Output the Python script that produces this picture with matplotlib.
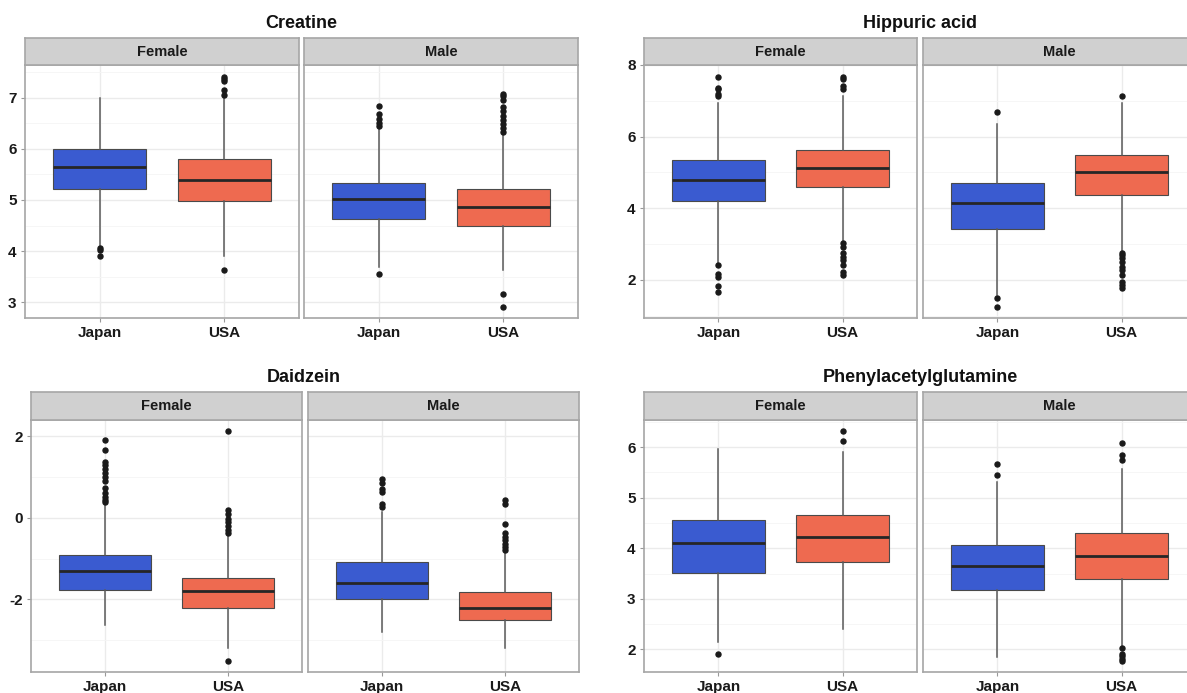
import numpy as np
import matplotlib.pyplot as plt

plt.rcParams['font.family'] = ['Liberation Sans', 'DejaVu Sans']
plt.rcParams['axes.unicode_minus'] = False

metabolites = ['Creatine', 'Hippuric acid', 'Daidzein', 'Phenylacetylglutamine']
sexes = ['Female', 'Male']
countries = ['Japan', 'USA']

# each row: Female-Japan, Female-USA, Male-Japan, Male-USA
medians = [[5.65, 5.39, 5.01, 4.86],
           [4.79, 5.13, 4.16, 5.00],
           [-1.31, -1.80, -1.59, -2.20],
           [4.10, 4.23, 3.65, 3.84]]
q1s = [[5.22, 4.97, 4.63, 4.50],
       [4.20, 4.59, 3.43, 4.38],
       [-1.76, -2.21, -2.00, -2.51],
       [3.51, 3.72, 3.18, 3.40]]
q3s = [[5.99, 5.80, 5.34, 5.22],
       [5.34, 5.62, 4.70, 5.48],
       [-0.91, -1.47, -1.09, -1.81],
       [4.55, 4.66, 4.07, 4.30]]
whisk_lo = [[4.09, 3.91, 3.69, 3.63],
            [2.47, 3.07, 1.57, 2.79],
            [-2.63, -3.18, -2.79, -3.18],
            [2.14, 2.41, 1.85, 2.07]]
whisk_hi = [[7.00, 7.02, 6.40, 6.30],
            [6.94, 7.13, 6.34, 6.94],
            [0.35, -0.42, 0.15, -0.83],
            [5.96, 5.91, 5.31, 5.57]]
outliers = [
    [[4.06, 4.03, 3.90],
     [7.04, 7.15, 7.33, 7.37, 7.41, 3.63],
     [6.44, 6.51, 6.59, 6.67, 6.84, 3.56],
     [6.33, 6.40, 6.48, 6.56, 6.64, 6.73, 6.82, 6.95, 7.02, 7.07, 3.16, 2.92]],
    [[7.13, 7.20, 7.32, 7.37, 7.66, 2.41, 2.18, 2.08, 1.82, 1.66],
     [7.34, 7.41, 7.62, 7.67, 3.02, 2.93, 2.74, 2.64, 2.55, 2.43, 2.22, 2.13],
     [6.68, 1.50, 1.26],
     [7.13, 2.76, 2.69, 2.60, 2.50, 2.36, 2.27, 2.13, 1.94, 1.85, 1.79]],
    [[0.39, 0.45, 0.51, 0.60, 0.73, 0.91, 1.00, 1.09, 1.21, 1.29, 1.37, 1.67, 1.92],
     [-0.37, -0.30, -0.20, -0.11, -0.02, 0.10, 0.20, 2.12, -3.50],
     [0.27, 0.33, 0.64, 0.72, 0.86, 0.96],
     [-0.78, -0.71, -0.63, -0.55, -0.47, -0.37, -0.16, 0.33, 0.45]],
    [[1.91],
     [6.13, 6.31],
     [5.44, 5.67],
     [5.75, 5.84, 6.09, 2.03, 1.91, 1.86, 1.82, 1.78]],
]
y_ticks = [[3, 4, 5, 6, 7], [2, 4, 6, 8], [-2, 0, 2], [2, 3, 4, 5, 6]]

box_colors = ['#3A5BD0', '#EE6A50']

W, H = 1187, 693
# left, facet width, gap, strip top, panel top, panel bottom, title x, title y
layout = [(25, 274, 5, 38, 65, 318, 301, 23),
          (644, 273, 6, 38, 65, 318, 920, 23),
          (31, 271, 6, 392, 420, 672, 304, 377),
          (644, 273, 6, 392, 420, 672, 920, 377)]


def frac(x0, y0, x1, y1):
    return [x0 / W, 1 - y1 / H, (x1 - x0) / W, (y1 - y0) / H]


fig = plt.figure(figsize=(W / 100, H / 100), dpi=100)

for m, name in enumerate(metabolites):
    left, fw, gap, st, pt, pb, tx, ty = layout[m]
    allv = whisk_lo[m] + whisk_hi[m] + [v for o in outliers[m] for v in o]
    lo, hi = min(allv), max(allv)
    pad = 0.05 * (hi - lo)
    ylim = (lo - pad, hi + pad)
    ticks = y_ticks[m]
    step = ticks[1] - ticks[0]
    minor = np.arange(ticks[0] - step / 2, hi + pad, step)

    for s, sex in enumerate(sexes):
        x0 = left + s * (fw + gap)
        x1 = x0 + fw
        ax = fig.add_axes(frac(x0, pt, x1, pb))
        stats = []
        for c in range(2):
            k = 2 * s + c
            stats.append(dict(med=medians[m][k], q1=q1s[m][k], q3=q3s[m][k],
                              whislo=whisk_lo[m][k], whishi=whisk_hi[m][k],
                              fliers=outliers[m][k]))
        bp = ax.bxp(stats, positions=[1, 2], widths=0.75, patch_artist=True, showcaps=False,
                    boxprops=dict(edgecolor='#4a4a4a', linewidth=0.8),
                    medianprops=dict(color='#262626', linewidth=2),
                    whiskerprops=dict(color='#5a5a5a', linewidth=1.1),
                    flierprops=dict(marker='o', markersize=3.6, markerfacecolor='#1a1a1a',
                                    markeredgecolor='#1a1a1a'))
        for patch, col in zip(bp['boxes'], box_colors):
            patch.set_facecolor(col)

        ax.set_xlim(0.4, 2.6)
        ax.set_ylim(*ylim)
        ax.set_xticks([1, 2], countries)
        ax.set_yticks(ticks)
        ax.set_yticks(minor[(minor > ylim[0]) & (minor < ylim[1])], minor=True)
        ax.grid(which='major', color='#ebebeb', linewidth=1)
        ax.grid(which='minor', axis='y', color='#f5f5f5', linewidth=0.6)
        ax.set_axisbelow(True)
        ax.tick_params(which='major', length=3, width=0.8, color='#999999', pad=3,
                       labelsize=11, labelcolor='#1a1a1a')
        ax.tick_params(which='minor', length=0)
        for lab in ax.get_xticklabels() + ax.get_yticklabels():
            lab.set_fontweight('bold')
        if s == 1:
            ax.tick_params(axis='y', left=False, labelleft=False)
        for sp in ax.spines.values():
            sp.set_color('#a6a6a6')
            sp.set_linewidth(1.2)

        sax = fig.add_axes(frac(x0, st, x1, pt))
        sax.set_facecolor('#d0d0d0')
        sax.set_xticks([])
        sax.set_yticks([])
        for sp in sax.spines.values():
            sp.set_color('#a6a6a6')
            sp.set_linewidth(1.2)
        sax.text(0.5, 0.5, sex, ha='center', va='center', fontsize=10.5,
                 fontweight='bold', color='#1a1a1a', transform=sax.transAxes)

    fig.text(tx / W, 1 - ty / H, name, ha='center', va='center', fontsize=13,
             fontweight='bold', color='#111111')

fig.savefig('out.png', dpi=100)
